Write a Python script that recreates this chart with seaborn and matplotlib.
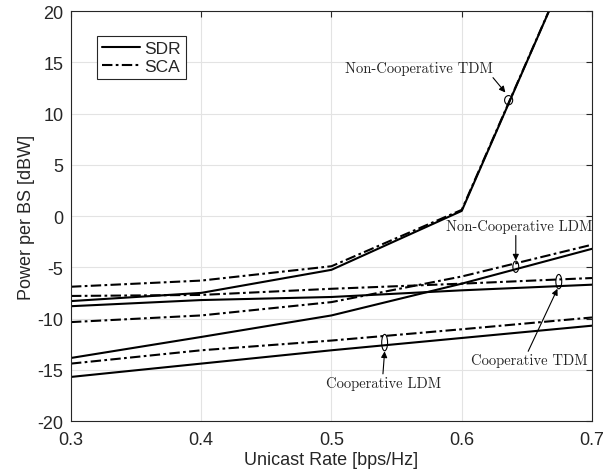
import matplotlib
matplotlib.use("Agg")
import matplotlib.pyplot as plt
import seaborn as sns
import pandas as pd
from matplotlib.lines import Line2D
from matplotlib.patches import Ellipse

# ---- data ----
rates = [0.3, 0.4, 0.5, 0.6, 0.7]
noncoop_tdm_sdr = [-8.3, -7.5, -5.25, 0.5, 29.6]
noncoop_tdm_sca = [-6.9, -6.3, -4.9, 0.6, 29.6]
coop_tdm_sdr = [-8.8, -8.2, -7.9, -7.25, -6.7]
coop_tdm_sca = [-7.8, -7.7, -7.1, -6.6, -6.05]
noncoop_ldm_sdr = [-13.85, -11.8, -9.7, -6.6, -3.2]
noncoop_ldm_sca = [-10.35, -9.7, -8.4, -5.9, -2.8]
coop_ldm_sdr = [-15.7, -14.4, -13.1, -11.9, -10.7]
coop_ldm_sca = [-14.4, -13.1, -12.15, -11.05, -9.9]
tick_labels_x = ["0.3", "0.4", "0.5", "0.6", "0.7"]
legend_labels = ["SDR", "SCA"]

series = {
    ("Non-Cooperative TDM", "SDR"): noncoop_tdm_sdr,
    ("Non-Cooperative TDM", "SCA"): noncoop_tdm_sca,
    ("Cooperative TDM", "SDR"): coop_tdm_sdr,
    ("Cooperative TDM", "SCA"): coop_tdm_sca,
    ("Non-Cooperative LDM", "SDR"): noncoop_ldm_sdr,
    ("Non-Cooperative LDM", "SCA"): noncoop_ldm_sca,
    ("Cooperative LDM", "SDR"): coop_ldm_sdr,
    ("Cooperative LDM", "SCA"): coop_ldm_sca,
}

rows = []
for (scheme, method), vals in series.items():
    for r, v in zip(rates, vals):
        rows.append({"scheme": scheme, "method": method, "rate": r, "power": v})
df = pd.DataFrame(rows)

sns.set_style("white")
plt.rcParams["font.family"] = ["Liberation Sans", "DejaVu Sans"]
plt.rcParams["axes.unicode_minus"] = False

fig = plt.figure(figsize=(6.15, 4.77), dpi=100)
ax = fig.add_axes([0.1154, 0.1153, 0.8472, 0.8595])

dash_sca = (0, (5, 1.6, 1.3, 1.6))
for (scheme, method), sub in df.groupby(["scheme", "method"]):
    sns.lineplot(data=sub, x="rate", y="power", ax=ax, color="black",
                 linewidth=1.5, estimator=None, legend=False,
                 linestyle="-" if method == "SDR" else dash_sca)

ax.set_xlim(0.3, 0.7)
ax.set_ylim(-20, 20)
ax.set_xticks(rates)
ax.set_xticklabels(tick_labels_x)
ax.set_yticks(range(-20, 21, 5))
ax.grid(True, color="#e3e3e3", linewidth=0.8)
ax.set_axisbelow(True)
for s in ax.spines.values():
    s.set_color("#262626")
    s.set_linewidth(0.8)
ax.tick_params(direction="in", top=True, right=True, length=4, width=0.8,
               labelsize=13, colors="#262626")
ax.tick_params(axis="x", pad=7)
ax.tick_params(axis="y", pad=5.5)
ax.set_xlabel("Unicast Rate [bps/Hz]", fontsize=13, color="#262626", labelpad=2)
ax.set_ylabel("Power per BS [dBW]", fontsize=13, color="#262626", labelpad=2)

handles = [Line2D([], [], color="black", lw=1.5, linestyle="-"),
           Line2D([], [], color="black", lw=1.5, linestyle=dash_sca)]
leg = ax.legend(handles, legend_labels, loc="upper left",
                bbox_to_anchor=(0.05, 0.939), fontsize=12.5, fancybox=False,
                framealpha=1, edgecolor="#262626", handlelength=2.2,
                handletextpad=0.2, borderpad=0.3, labelspacing=0.15,
                borderaxespad=0)
leg.get_frame().set_linewidth(0.8)

serif = dict(family="cmr10", fontsize=10.5, color="#262626")
arrow = dict(arrowstyle="-|>", color="black", lw=0.8, mutation_scale=9,
             shrinkA=0, shrinkB=0)

# Non-Cooperative TDM
ax.add_patch(Ellipse((0.636, 11.3), 0.0062, 0.9, fill=False, lw=0.8, color="black"))
ax.text(0.567, 14.4, "Non-Cooperative TDM", ha="center", va="center", **serif)
ax.annotate("", xy=(0.6335, 12.05), xytext=(0.624, 13.5), arrowprops=arrow)
# Non-Cooperative LDM
ax.add_patch(Ellipse((0.6415, -4.95), 0.0045, 1.1, fill=False, lw=0.8, color="black"))
ax.text(0.644, -0.95, "Non-Cooperative LDM", ha="center", va="center", **serif)
ax.annotate("", xy=(0.6415, -4.35), xytext=(0.6415, -1.9), arrowprops=arrow)
# Cooperative TDM
ax.add_patch(Ellipse((0.6745, -6.4), 0.0045, 1.4, fill=False, lw=0.8, color="black"))
ax.annotate("", xy=(0.6735, -7.1), xytext=(0.651, -13.2), arrowprops=arrow)
ax.text(0.652, -14.0, "Cooperative TDM", ha="center", va="center", **serif)
# Cooperative LDM
ax.add_patch(Ellipse((0.5408, -12.35), 0.0045, 1.6, fill=False, lw=0.8, color="black"))
ax.annotate("", xy=(0.5408, -13.2), xytext=(0.5395, -15.4), arrowprops=arrow)
ax.text(0.540, -16.25, "Cooperative LDM", ha="center", va="center", **serif)

fig.savefig("out.png", dpi=100)
